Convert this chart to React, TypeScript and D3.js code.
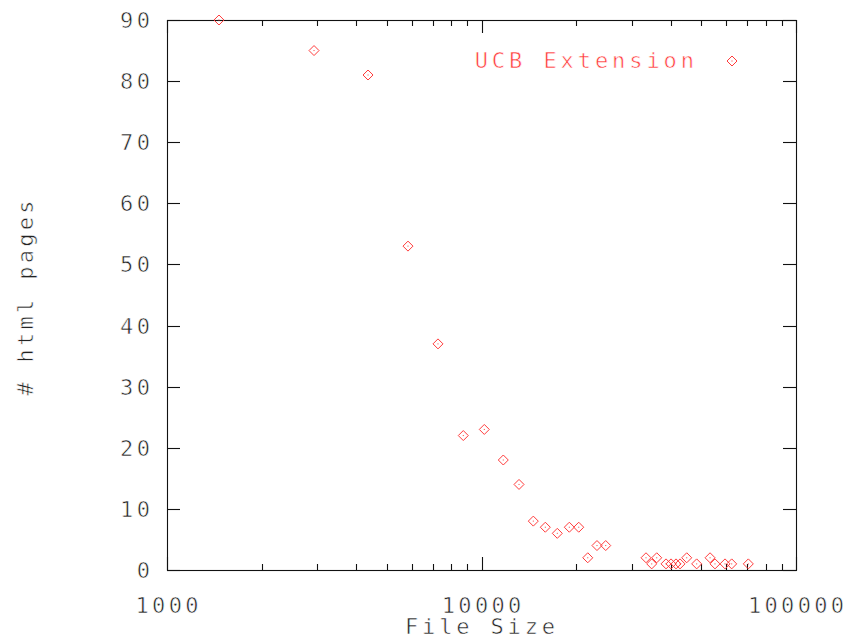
import { useRef, useEffect } from 'react';
import { select, scaleLog, scaleLinear, range } from 'd3';

// file size (bytes) and number of html pages
const fileSizes = [
  1463, 2934, 4357, 5838, 7272, 8752, 10207, 11729, 13161, 14612, 15955,
  17418, 19020, 20380, 21770, 23290, 24830, 33350, 34770, 36070, 38610,
  40050, 41540, 42780, 44930, 48330, 53300, 55260, 59470, 62450, 70530,
];
const pageCounts = [
  90, 85, 81, 53, 37, 22, 23, 18, 14, 8, 7, 6, 7, 7, 2, 4, 4, 2, 1, 2, 1,
  1, 1, 1, 2, 1, 2, 1, 1, 1, 1,
];
const xMajorTicks = [1000, 10000, 100000];
const yTicks = [0, 10, 20, 30, 40, 50, 60, 70, 80, 90];
const seriesName = 'UCB Extension';
const xTitle = 'File Size';
const yTitle = '# html pages';

const W = 843;
const H = 637;
const FONT = '"DejaVu Sans Mono", monospace';
const RED = '#ff3b3b';

const App = () => {
  const svgRef = useRef<SVGSVGElement>(null);

  useEffect(() => {
    const svg = select(svgRef.current);
    svg.selectAll('*').remove();

    const x = scaleLog().domain([1000, 100000]).range([167, 796]);
    const y = scaleLinear().domain([0, 90]).range([570, 20]);
    const [x0, x1] = x.range();
    const [y0, y1] = y.range();

    const minor: number[] = [];
    [1000, 10000].forEach((d) => range(2, 10).forEach((k) => minor.push(d * k)));

    const g = svg.append('g').attr('stroke', '#111').attr('stroke-width', 1.1);
    // frame
    g.append('rect')
      .attr('x', x0 + 0.5).attr('y', y1 + 0.5)
      .attr('width', x1 - x0).attr('height', y0 - y1)
      .attr('fill', 'none');

    // x ticks (bottom + mirrored top)
    const xt = [
      ...xMajorTicks.map((v) => ({ v, len: 13 })),
      ...minor.map((v) => ({ v, len: 6 })),
    ];
    xt.forEach(({ v, len }) => {
      const px = Math.round(x(v)) + 0.5;
      g.append('line').attr('x1', px).attr('x2', px).attr('y1', y0).attr('y2', y0 - len);
      g.append('line').attr('x1', px).attr('x2', px).attr('y1', y1).attr('y2', y1 + len);
    });
    yTicks.forEach((v) => {
      const py = Math.round(y(v)) + 0.5;
      g.append('line').attr('x1', x0).attr('x2', x0 + 13).attr('y1', py).attr('y2', py);
      g.append('line').attr('x1', x1).attr('x2', x1 - 13).attr('y1', py).attr('y2', py);
    });

    // thin, stroke-font look: white outline eats into the glyphs
    const label = (txt: string, px: number, py: number, anchor: string, fill = '#222', ch = 16.5) =>
      svg.append('text')
        .attr('x', px).attr('y', py)
        .attr('text-anchor', anchor)
        .attr('font-family', FONT)
        .attr('font-size', 22)
        .attr('fill', fill)
        .attr('stroke', '#fff')
        .attr('stroke-width', 0.6)
        .attr('textLength', txt.length * ch - 3)
        .attr('lengthAdjust', 'spacing')
        .text(txt);

    yTicks.forEach((v) => label(String(v), 150, y(v) + 8, 'end'));
    xMajorTicks.forEach((v) => label(String(v), x(v), 613, 'middle'));
    label(xTitle, 480, 634, 'middle', '#222', 17);
    label(yTitle, 0, 0, 'middle')
      .attr('transform', `translate(33,298) rotate(-90)`);

    // legend
    label(seriesName, 694, 68, 'end', RED, 17.1);

    const diamond = (px: number, py: number) => {
      const r = 5;
      svg.append('path')
        .attr('d', `M${px},${py - r}L${px + r},${py}L${px},${py + r}L${px - r},${py}Z`)
        .attr('fill', 'none')
        .attr('stroke', RED)
        .attr('stroke-width', 1);
      svg.append('rect')
        .attr('x', px - 0.5).attr('y', py - 0.5)
        .attr('width', 1).attr('height', 1)
        .attr('fill', RED);
    };

    fileSizes.forEach((d, i) => diamond(x(d), y(pageCounts[i])));
    diamond(732, 61);
  }, []);

  return (
    <svg
      ref={svgRef}
      width={W}
      height={H}
      style={{ position: 'absolute', left: 0, top: 0, background: '#fff' }}
    />
  );
};

export default App;
